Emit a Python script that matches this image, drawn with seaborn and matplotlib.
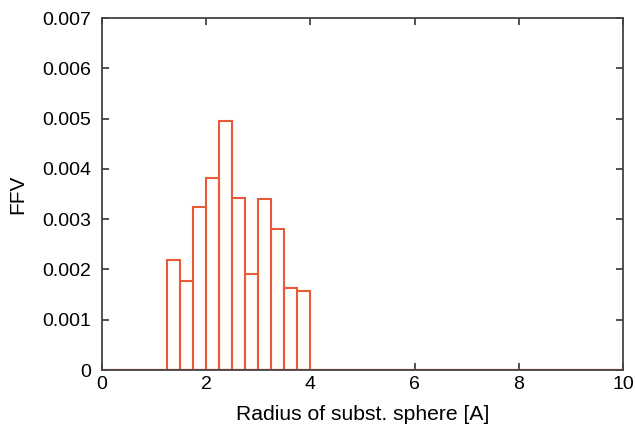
import matplotlib
matplotlib.use("Agg")
import matplotlib.pyplot as plt
import numpy as np
import seaborn as sns

# bin edges of the substituted-sphere radius histogram [A]
bin_edges = [1.25, 1.5, 1.75, 2.0, 2.25, 2.5, 2.75, 3.0, 3.25, 3.5, 3.75, 4.0]
# FFV per bin
ffv = [0.00219, 0.00177, 0.00325, 0.00382, 0.00495, 0.00342,
       0.00191, 0.00340, 0.00280, 0.00164, 0.00158]

bar_color = "#e85a38"

sns.set_style("white")
plt.rcParams["font.family"] = ["Liberation Sans", "DejaVu Sans"]

centers = (np.array(bin_edges[:-1]) + np.array(bin_edges[1:])) / 2

fig = plt.figure(figsize=(6.35, 4.25), dpi=100)
ax = fig.add_axes([0.1606, 0.1294, 0.8204, 0.8282])

sns.histplot(x=centers, weights=ffv, bins=bin_edges, fill=False,
             color=bar_color, linewidth=1.5, ax=ax)
ax.axhline(0, color=bar_color, linewidth=1.6, zorder=1)

ax.set_xlim(0, 10)
ax.set_ylim(0, 0.007)
ax.set_xticks([0, 2, 4, 6, 8, 10])
ax.set_yticks(np.arange(0, 0.0071, 0.001))
ax.set_yticklabels(["0", "0.001", "0.002", "0.003", "0.004", "0.005", "0.006", "0.007"])

ax.tick_params(direction="in", length=5, width=1.2, colors="#333333",
               labelcolor="black", labelsize=14, top=True, right=True,
               bottom=True, left=True)
ax.tick_params(axis="y", pad=8)
ax.tick_params(axis="x", pad=4)
for s in ax.spines.values():
    s.set_color("#444444")
    s.set_linewidth(1.3)

ax.set_xlabel("Radius of subst. sphere [A]", fontsize=15.2, color="black")
ax.set_ylabel("FFV", fontsize=15, color="black")
ax.xaxis.set_label_coords(0.5, -0.1)
ax.yaxis.set_label_coords(-0.144, 0.5)

fig.savefig("out.png", dpi=100)
